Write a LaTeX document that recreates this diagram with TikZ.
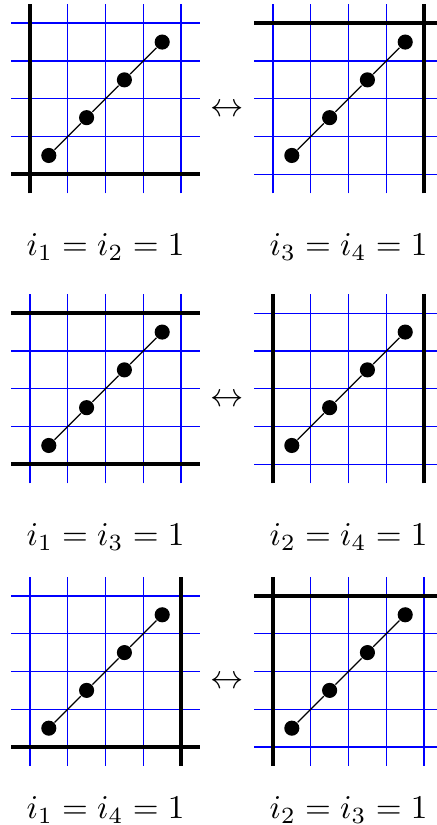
\documentclass[tikz,border=0pt]{standalone}
\usepackage{amsmath}
\usepackage{tikz}
\usetikzlibrary{positioning, calc}
\definecolor{gridblue}{RGB}{0,0,255}

\begin{document}
\begin{tikzpicture}[
    x=0.4cm, y=0.4cm,
    gridline/.style={draw=gridblue, line width=0.4pt},
    wall/.style={draw=black, line width=1.2pt},
    dot/.style={circle, fill=black, inner sep=0pt, minimum size=0.16cm},
    eqlabel/.style={font=\normalsize}
]
\useasboundingbox (0,0) rectangle (11.534,21.825);

% blue grids
\foreach \px/\py in {0.291/16.712, 6.720/16.712, 0.291/9.040, 6.720/9.040, 0.291/1.561, 6.720/1.561} {
  \foreach \k in {0.5,1.5,2.5,3.5,4.5} {
    \path[gridline] ($(\px,\py)+(\k,0)$) -- ($(\px,\py)+(\k,5)$);
    \path[gridline] ($(\px,\py)+(0,\k)$) -- ($(\px,\py)+(5,\k)$);
  }
}

% thick boundary lines
\begin{scope}[shift={(0.291,16.712)}]
  \draw[wall] (0.5,0) -- (0.5,5);
  \draw[wall] (0,0.5) -- (5,0.5);
\end{scope}
\begin{scope}[shift={(6.720,16.712)}]
  \draw[wall] (0,4.5) -- (5,4.5);
  \draw[wall] (4.5,0) -- (4.5,5);
\end{scope}
\begin{scope}[shift={(0.291,9.040)}]
  \draw[wall] (0,0.5) -- (5,0.5);
  \draw[wall] (0,4.5) -- (5,4.5);
\end{scope}
\begin{scope}[shift={(6.720,9.040)}]
  \draw[wall] (0.5,0) -- (0.5,5);
  \draw[wall] (4.5,0) -- (4.5,5);
\end{scope}
\begin{scope}[shift={(0.291,1.561)}]
  \draw[wall] (0,0.5) -- (5,0.5);
  \draw[wall] (4.5,0) -- (4.5,5);
\end{scope}
\begin{scope}[shift={(6.720,1.561)}]
  \draw[wall] (0,4.5) -- (5,4.5);
  \draw[wall] (0.5,0) -- (0.5,5);
\end{scope}

% dots and diagonals
\foreach \nm/\px/\py in {a/0.291/16.712, b/6.720/16.712, c/0.291/9.040, d/6.720/9.040, e/0.291/1.561, f/6.720/1.561} {
  \foreach \k in {1,...,4}
    \node[dot] (\nm\k) at ($(\px,\py)+(\k,\k)$) {};
  \draw (\nm1) -- (\nm2) -- (\nm3) -- (\nm4);
}

% arrows between panels
\node (arr1) at (6.005,18.912) {$\leftrightarrow$};
\node (arr2) at (6.005,11.240) {$\leftrightarrow$};
\node (arr3) at (6.005,3.761) {$\leftrightarrow$};

% labels
\node[eqlabel] (lab-a) at (2.791,15.291) {$i_1 = i_2 = 1$};
\node[eqlabel] (lab-b) at (9.220,15.291) {$i_3 = i_4 = 1$};
\node[eqlabel] (lab-c) at (2.791,7.619) {$i_1 = i_3 = 1$};
\node[eqlabel] (lab-d) at (9.220,7.619) {$i_2 = i_4 = 1$};
\node[eqlabel] (lab-e) at (2.791,0.397) {$i_1 = i_4 = 1$};
\node[eqlabel] (lab-f) at (9.220,0.397) {$i_2 = i_3 = 1$};
\end{tikzpicture}
\end{document}
